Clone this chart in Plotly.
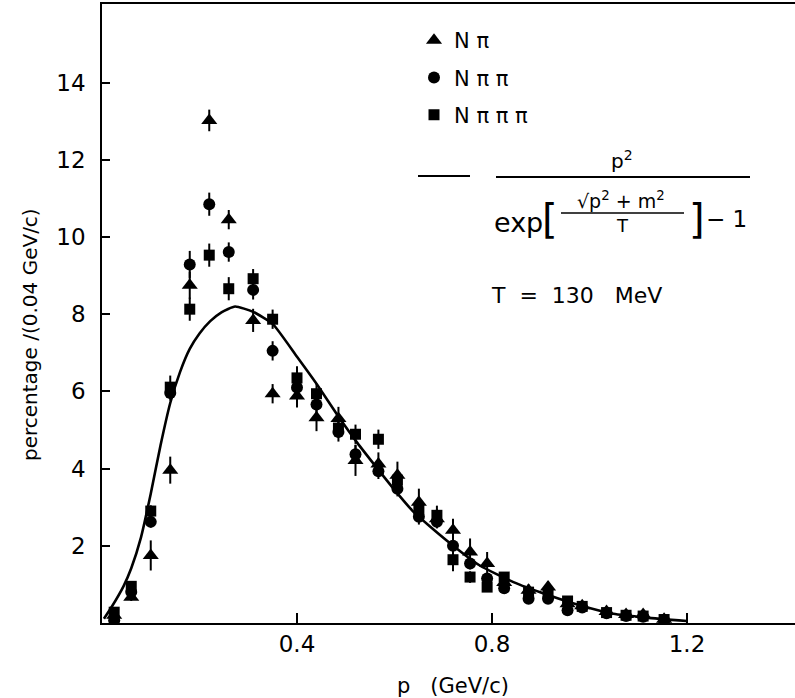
import plotly.graph_objects as go

# ---- data ----
p_bins = [0.025, 0.06, 0.10, 0.14, 0.18, 0.22, 0.26, 0.31, 0.35, 0.40, 0.44, 0.485, 0.52,
          0.567, 0.606, 0.65, 0.687, 0.72, 0.755, 0.79, 0.825, 0.875, 0.915, 0.955, 0.985,
          1.035, 1.075, 1.11, 1.153]

n_pi = [0.20, 0.67, 1.75, 3.96, 8.75, 13.02, 10.45, 7.84, 5.94, 5.88, 5.32, 5.30, 4.21,
        4.12, 3.83, 3.13, 2.70, 2.40, 1.84, 1.54, 1.05, 0.85, 0.93, 0.50, 0.45,
        0.30, 0.22, 0.22, 0.10]
n_pi_err = [0.05, 0.10, 0.39, 0.35, 0.35, 0.28, 0.25, 0.30, 0.25, 0.30, 0.35, 0.30, 0.40,
            0.30, 0.35, 0.35, 0.25, 0.30, 0.35, 0.30, 0.15, 0.15, 0.15, 0.10, 0.10,
            0.08, 0.08, 0.08, 0.05]

n_pipi = [0.07, 0.80, 2.62, 5.96, 9.29, 10.85, 9.61, 8.63, 7.05, 6.10, 5.66, 4.95, 4.37,
          3.93, 3.48, 2.75, 2.62, 2.00, 1.54, 1.15, 0.90, 0.63, 0.63, 0.33, 0.40,
          0.25, 0.18, 0.16, 0.07]
n_pipi_err = [0.05, 0.10, 0.15, 0.20, 0.35, 0.30, 0.25, 0.25, 0.25, 0.25, 0.25, 0.25, 0.25,
              0.20, 0.20, 0.20, 0.15, 0.15, 0.15, 0.12, 0.10, 0.10, 0.10, 0.08, 0.08,
              0.06, 0.06, 0.06, 0.05]

n_pipipi = [0.28, 0.95, 2.90, 6.11, 8.13, 9.53, 8.66, 8.92, 7.87, 6.35, 5.94, 5.05, 4.89,
            4.76, 3.70, 2.95, 2.79, 1.64, 1.19, 0.93, 1.19, 0.80, 0.75, 0.57, 0.43,
            0.27, 0.20, 0.18, 0.09]
n_pipipi_err = [0.05, 0.10, 0.15, 0.30, 0.30, 0.30, 0.30, 0.25, 0.25, 0.30, 0.25, 0.25, 0.25,
                0.25, 0.25, 0.25, 0.25, 0.30, 0.15, 0.12, 0.12, 0.10, 0.10, 0.08, 0.08,
                0.06, 0.06, 0.06, 0.05]

curve_p = [0.004, 0.02, 0.044, 0.06, 0.08, 0.10, 0.12, 0.14, 0.16, 0.18, 0.20, 0.222,
           0.245, 0.273, 0.31, 0.35, 0.40, 0.44, 0.485, 0.523, 0.565, 0.60, 0.639, 0.707,
           0.775, 0.844, 0.912, 0.98, 1.049, 1.117, 1.2]
curve_v = [0.11, 0.42, 0.95, 1.42, 2.22, 3.35, 4.60, 5.70, 6.50, 7.10, 7.50, 7.82,
           8.05, 8.20, 8.06, 7.75, 6.90, 6.20, 5.35, 4.68, 4.00, 3.45, 2.88, 2.14,
           1.49, 1.06, 0.74, 0.46, 0.24, 0.14, 0.05]

x_ticks = [0.4, 0.8, 1.2]
x_ticklabels = ["0.4", "0.8", "1.2"]
y_ticks = [2, 4, 6, 8, 10, 12, 14]
y_ticklabels = ["2", "4", "6", "8", "10", "12", "14"]

# ---- figure ----
W, H = 795, 698
L, R, T, B = 102, 795, 4, 623
FONT = "DejaVu Sans"


def px(x):
    return (x - L) / (R - L)


def py(y):
    return (B - y) / (B - T)


fig = go.Figure()

fig.add_trace(go.Scatter(
    x=curve_p, y=curve_v, mode="lines",
    line=dict(color="black", width=2.6, shape="spline", smoothing=0.5),
    showlegend=False, hoverinfo="skip"))

series = [
    ("N \u03c0", n_pi, n_pi_err, "triangle-up", 14),
    ("N \u03c0 \u03c0", n_pipi, n_pipi_err, "circle", 12),
    ("N \u03c0 \u03c0 \u03c0", n_pipipi, n_pipipi_err, "square", 11),
]
for i, (name, vals, errs, sym, size) in enumerate(series):
    fig.add_trace(go.Scatter(
        x=p_bins, y=vals, mode="markers", name=name,
        legendgroup=str(i),
        marker=dict(symbol=sym, size=size, color="black", line=dict(width=0)),
        error_y=dict(type="data", array=errs, visible=True, color="black",
                     thickness=2, width=0)))

ff = dict(family=FONT, color="black")
annotations = [
    # axis titles
    dict(x=px(453), y=py(686), text="p   (GeV/c)", font=dict(size=21, **ff)),
    dict(x=px(30), y=py(335), text="percentage /(0.04 GeV/c)", textangle=-90,
         font=dict(size=20, **ff)),
    # formula
    dict(x=px(622), y=py(160), text="p<sup>2</sup>", font=dict(size=20, **ff)),
    dict(x=px(518), y=py(222), text="exp", font=dict(size=27, **ff)),
    dict(x=px(550), y=py(219), text="[", font=dict(size=40, **ff)),
    dict(x=px(697), y=py(219), text="]", font=dict(size=40, **ff)),
    dict(x=px(621), y=py(200), text="\u221ap<sup>2</sup> + m<sup>2</sup>", font=dict(size=19, **ff)),
    dict(x=px(622), y=py(226), text="T", font=dict(size=18, **ff)),
    dict(x=px(726), y=py(219), text="\u2212 1", font=dict(size=23, **ff)),
    dict(x=px(576), y=py(295), text="T  =  130   MeV", font=dict(size=22, **ff)),
]
for a in annotations:
    a.setdefault("xref", "paper")
    a.setdefault("yref", "paper")
    a.setdefault("showarrow", False)
    a.setdefault("xanchor", "center")
    a.setdefault("yanchor", "middle")

shapes = [
    dict(type="line", xref="paper", yref="paper", x0=px(418), x1=px(470), y0=py(176), y1=py(176),
         line=dict(color="black", width=2)),
    dict(type="line", xref="paper", yref="paper", x0=px(496), x1=px(750), y0=py(177), y1=py(177),
         line=dict(color="black", width=2)),
    dict(type="line", xref="paper", yref="paper", x0=px(561), x1=px(684), y0=py(213), y1=py(213),
         line=dict(color="black", width=1.5)),
]

fig.update_layout(
    width=W, height=H,
    margin=dict(l=L, r=W - R, t=T, b=H - B),
    paper_bgcolor="white", plot_bgcolor="white",
    font=dict(family=FONT, color="black"),
    showlegend=True,
    legend=dict(x=px(414), y=py(20), xanchor="left", yanchor="top",
                font=dict(family=FONT, size=21, color="black"),
                bgcolor="rgba(0,0,0,0)", tracegroupgap=7, traceorder="grouped",
                itemwidth=30),
    annotations=annotations,
    shapes=shapes,
    xaxis=dict(range=[0, (R - L) / 487.5], showgrid=False, zeroline=False,
               showline=True, linecolor="black", linewidth=1.5, mirror=True,
               ticks="inside", ticklen=10, tickwidth=1.5, tickcolor="black",
               tickvals=x_ticks, ticktext=x_ticklabels,
               tickfont=dict(family=FONT, size=23, color="black")),
    yaxis=dict(range=[0, (B - T) / 38.6], showgrid=False, zeroline=False,
               showline=True, linecolor="black", linewidth=1.5,
               ticks="inside", ticklen=8, tickwidth=1.5, tickcolor="black",
               tickvals=y_ticks, ticktext=y_ticklabels, ticklabelstandoff=10,
               tickfont=dict(family=FONT, size=23, color="black")),
)

fig.write_html("out.html", config={"displayModeBar": False},
               post_script="document.body.style.margin='0px';")
